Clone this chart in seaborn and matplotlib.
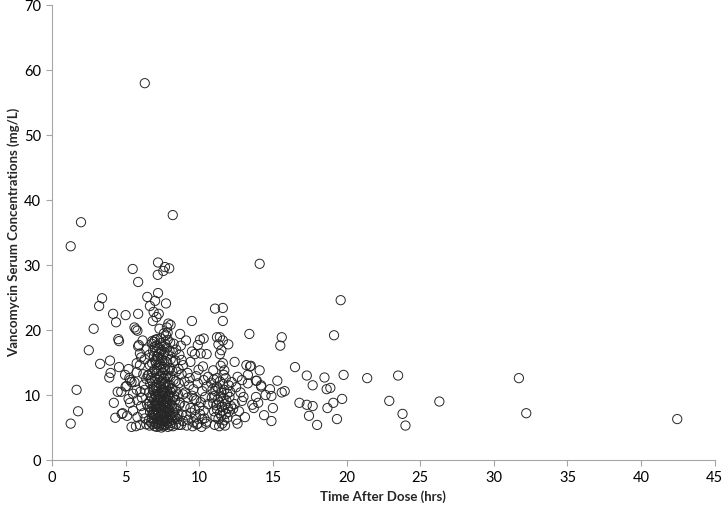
import numpy as np
import pandas as pd
import matplotlib
matplotlib.use('Agg')
import matplotlib.pyplot as plt
import seaborn as sns

# early samples (< 5 hrs)
time_a = [1.27, 1.97, 1.67, 1.77, 1.27, 2.5, 2.83, 3.2, 3.4, 3.27, 3.94, 3.98, 3.89, 4.15, 4.35, 4.5, 4.55, 4.55,
          4.2, 4.3, 4.46, 4.7, 4.73, 4.96, 5.0, 5.0, 4.8, 5.1]
conc_a = [32.9, 36.6, 10.8, 7.5, 5.6, 16.9, 20.2, 23.7, 24.9, 14.8, 15.3, 13.4, 12.7, 22.5, 21.2, 18.6, 18.3, 14.3,
          8.8, 6.5, 10.5, 10.5, 7.1, 13.1, 22.3, 11.3, 7.2, 6.8]

# 5 - 6.5 hrs
time_b = [5.48, 5.85, 5.85, 5.6, 5.7, 5.8, 5.85, 5.2, 5.3, 5.4, 5.25, 5.07, 5.2, 5.4, 5.7, 5.97, 5.8, 5.8, 6.0, 5.75,
          5.75, 5.75, 5.6, 5.97, 5.97, 5.9, 6.05, 6.3, 5.3, 5.5, 6.2, 6.1, 6.3, 6.4, 6.2, 6.3, 6.4, 6.15, 6.4, 6.3,
          6.47, 6.65, 5.5, 6.05, 6.25]
conc_b = [29.4, 27.4, 22.5, 20.4, 20.1, 19.9, 17.5, 14.0, 12.3, 12.0, 12.6, 11.4, 9.4, 5.1, 5.2, 5.4, 6.6, 9.2, 10.5, 10.8,
          14.9, 13.5, 12.0, 14.6, 16.4, 17.7, 15.8, 58.0, 8.8, 7.6, 7.2, 9.6, 10.8, 12.5, 13.2, 15.5, 17.0, 18.4, 5.5, 6.4,
          25.1, 23.7, 10.2, 8.3, 11.6]

# trough cluster around 7-8 hrs, upper points
time_c1 = [8.2, 7.2, 7.67, 7.96, 7.56, 7.18, 7.2, 7.0, 7.74, 6.9, 7.1, 7.25, 7.9, 7.8, 7.85, 8.05, 7.6, 7.4, 6.8, 7.0,
           7.3, 6.85]
conc_c1 = [37.7, 30.4, 29.7, 29.5, 29.1, 28.5, 25.7, 24.5, 24.1, 22.8, 22.0, 22.5, 21.0, 20.4, 19.6, 20.8, 19.5, 18.7,
           18.3, 18.5, 20.2, 21.4]

# trough cluster, dense part
time_c2 = [6.62, 6.58, 6.66, 6.55, 6.63, 6.6, 6.67, 6.57, 6.64, 6.61,
           6.82, 6.78, 6.85, 6.76, 6.81, 6.79, 6.84, 6.77, 6.83, 6.8, 6.86, 6.78,
           6.97, 6.93, 6.99, 6.91, 6.96, 6.94, 7.0, 6.92, 6.98, 6.95, 7.01, 6.93, 6.97, 6.94,
           7.12, 7.08, 7.14, 7.06, 7.11, 7.09, 7.15, 7.07, 7.13, 7.1, 7.16, 7.08, 7.12, 7.05, 7.14, 7.09, 7.11, 7.13,
           7.27, 7.23, 7.29, 7.21, 7.26, 7.24, 7.3, 7.22, 7.28, 7.25, 7.31, 7.23, 7.27, 7.2, 7.26, 7.29,
           7.42, 7.38, 7.44, 7.36, 7.41, 7.39, 7.45, 7.37, 7.43, 7.4, 7.46, 7.38, 7.42, 7.35, 7.41, 7.44, 7.39,
           7.57, 7.53, 7.59, 7.51, 7.56, 7.54, 7.6, 7.52, 7.58, 7.55, 7.61, 7.53, 7.57, 7.5, 7.56, 7.59,
           7.72, 7.68, 7.74, 7.66, 7.71, 7.69, 7.75, 7.67, 7.73, 7.7, 7.76, 7.68, 7.72, 7.65, 7.71, 7.74,
           7.87, 7.83, 7.89, 7.81, 7.86, 7.84, 7.9, 7.82, 7.88, 7.85, 7.91, 7.83, 7.87, 7.8, 7.86,
           8.02, 7.98, 8.04, 7.96, 8.01, 7.99, 8.05, 7.97, 8.03, 8.0, 8.06, 7.98, 8.02,
           8.22, 8.18, 8.24, 8.16, 8.21, 8.19, 8.25, 8.17, 8.23, 8.2, 8.26,
           8.42, 8.38, 8.44, 8.36, 8.41, 8.39, 8.45, 8.37, 8.43,
           8.62, 8.58, 8.64, 8.56, 8.61, 8.59, 8.65]
conc_c2 = [5.3, 6.1, 7.4, 8.2, 9.0, 10.4, 11.8, 13.1, 14.6, 16.2,
           5.5, 6.4, 7.0, 7.9, 8.7, 9.6, 10.9, 12.2, 13.5, 14.9, 16.8, 17.9,
           5.2, 5.9, 6.8, 7.6, 8.4, 9.3, 10.1, 11.2, 12.6, 13.9, 15.3, 16.0, 17.4, 18.2,
           5.1, 5.6, 6.3, 7.1, 7.8, 8.5, 9.1, 9.8, 10.6, 11.5, 12.4, 13.3, 14.2, 15.0, 15.9, 16.7, 17.6, 18.6,
           5.3, 5.9, 6.6, 7.3, 8.0, 8.8, 9.5, 10.2, 11.0, 11.9, 12.8, 13.7, 14.6, 15.6, 16.4, 17.2,
           5.0, 5.6, 6.2, 6.9, 7.5, 8.2, 8.9, 9.7, 10.5, 11.3, 12.1, 13.0, 13.9, 14.8, 15.7, 16.9, 18.0,
           5.2, 5.8, 6.5, 7.2, 7.9, 8.6, 9.3, 10.0, 10.8, 11.7, 12.5, 13.4, 14.3, 15.4, 16.3, 17.5,
           5.4, 6.0, 6.7, 7.4, 8.1, 8.9, 9.6, 10.4, 11.2, 12.0, 13.0, 14.0, 15.2, 16.6, 17.8, 19.2,
           5.1, 5.7, 6.4, 7.2, 8.0, 8.8, 9.7, 10.6, 11.6, 12.7, 13.8, 15.0, 16.1, 17.3, 18.5,
           5.3, 6.0, 6.9, 7.7, 8.6, 9.5, 10.5, 11.6, 12.9, 14.1, 15.5, 16.8, 18.1,
           5.2, 6.2, 7.3, 8.4, 9.6, 10.9, 12.3, 13.7, 15.1, 16.6, 17.9,
           5.5, 6.6, 7.9, 9.2, 10.6, 12.1, 13.6, 15.3, 17.0,
           5.4, 7.0, 8.5, 10.1, 11.8, 14.0, 16.2]

time_c3 = [6.72, 6.88, 7.03, 7.18, 7.33, 7.48, 7.63, 7.78, 7.93, 8.1, 8.3, 6.74, 6.9, 7.05, 7.2, 7.35, 7.5, 7.65,
           7.8, 7.95, 8.12, 8.32, 6.7, 6.87, 7.02, 7.17, 7.32, 7.47, 7.62, 7.77, 7.92, 8.08, 8.28, 8.5, 6.5, 6.45]
conc_c3 = [5.8, 6.9, 7.7, 8.3, 9.2, 6.0, 7.1, 8.7, 9.9, 6.6, 8.0, 9.8, 10.7, 11.1, 5.6, 6.8, 10.4, 11.7,
           6.2, 7.4, 11.0, 6.9, 12.6, 7.3, 8.8, 9.4, 10.1, 5.4, 8.3, 9.1, 10.1, 5.7, 9.9, 6.3, 13.0, 8.6]

# 8.7 - 10.6 hrs
time_d = [9.5, 8.7, 9.1, 10.05, 10.3, 9.9, 9.5, 9.7, 10.1, 10.5, 8.8, 8.9, 9.4, 8.75, 9.8, 10.6, 10.3, 9.2,
          8.8, 9.0, 9.3, 9.6, 9.9, 10.2, 10.5, 8.9, 9.2, 9.5, 9.8, 10.1, 10.4, 8.7, 9.0, 9.4, 9.7, 10.0, 10.3,
          10.6, 8.8, 9.1, 9.45, 9.75, 10.05, 10.35, 8.9, 9.25, 9.6, 9.9, 10.2, 10.5, 8.75, 9.15, 9.55, 9.85,
          10.15, 10.45, 9.05, 9.35, 9.65, 9.95, 10.25]
conc_d = [21.4, 19.4, 18.4, 18.5, 18.7, 17.7, 16.7, 16.3, 16.4, 16.3, 15.4, 14.6, 15.1, 17.6, 12.9, 12.8, 12.3, 13.4,
          13.2, 12.1, 11.5, 10.9, 11.8, 10.6, 11.3, 10.1, 9.6, 9.9, 9.2, 8.9, 9.7, 8.8, 8.3, 8.0, 7.7, 8.2, 7.6,
          8.6, 7.0, 6.9, 7.3, 6.6, 7.1, 6.4, 6.0, 6.2, 5.8, 5.6, 6.3, 5.9, 5.4, 5.3, 5.2, 5.5,
          5.1, 5.6, 10.4, 12.6, 9.4, 13.9, 14.4]

# second cluster around 11-12 hrs
time_e = [11.07, 11.6, 11.6, 11.2, 11.4, 11.6, 11.3, 11.97, 11.5, 11.4, 11.6, 11.7, 11.2, 10.95,
          10.8, 11.0, 11.2, 11.4, 11.6, 11.8, 12.0, 12.2,
          10.9, 11.1, 11.3, 11.5, 11.7, 11.9, 12.1,
          10.85, 11.05, 11.25, 11.45, 11.65, 11.85, 12.05,
          10.95, 11.15, 11.35, 11.55, 11.75, 11.95, 12.15,
          11.0, 11.2, 11.4, 11.6, 11.8, 12.0,
          11.1, 11.3, 11.5, 11.7, 11.9,
          11.05, 11.35, 11.55, 11.75, 11.45, 11.65]
conc_e = [23.3, 23.4, 21.4, 18.9, 18.9, 18.4, 17.8, 17.8, 16.9, 16.3, 14.9, 13.8, 12.6, 13.8,
          11.9, 12.4, 11.3, 12.1, 11.7, 12.6, 11.5, 12.0,
          10.9, 10.6, 11.0, 10.4, 10.8, 10.2, 10.5,
          9.6, 9.9, 9.3, 9.8, 9.5, 9.1, 9.7,
          8.7, 8.4, 8.9, 8.2, 8.6, 8.0, 8.3,
          7.5, 7.8, 7.2, 7.6, 7.1, 7.4,
          6.6, 6.3, 6.8, 6.1, 6.5,
          5.4, 5.2, 5.6, 5.3, 14.5, 13.1]

# 12.3 - 16 hrs
time_f = [12.4, 13.2, 13.5, 12.6, 12.9, 13.3, 13.9, 14.2, 14.1, 14.1, 13.4, 13.45, 15.6, 15.5, 13.85, 14.2, 15.3,
          14.8, 14.5, 14.9, 15.6, 15.8, 13.85, 14.0, 13.6, 13.7, 15.0, 14.4, 14.9, 12.5, 12.8, 13.0, 12.4, 12.7,
          13.1, 12.6, 12.9, 12.5, 13.3, 12.3]
conc_f = [15.1, 14.6, 14.5, 12.8, 12.3, 13.1, 12.2, 11.3, 30.2, 13.8, 19.4, 14.4, 18.9, 17.6, 12.2, 11.5, 12.2,
          10.9, 10.0, 9.85, 10.4, 10.6, 9.7, 8.8, 8.5, 8.0, 8.0, 6.9, 6.0, 11.2, 10.4, 9.7, 8.6, 7.5,
          6.6, 5.6, 9.1, 6.2, 11.8, 7.9]

# late samples (> 16 hrs)
time_g = [16.5, 17.3, 18.5, 19.8, 17.7, 18.65, 18.9, 16.8, 17.3, 17.7, 19.1, 18.7, 19.7, 17.45, 18.0, 19.35, 19.6,
          19.15, 21.4, 23.5, 31.7, 22.9, 26.3, 23.8, 24.0, 32.2, 42.45]
conc_g = [14.3, 13.0, 12.7, 13.1, 11.5, 10.9, 11.1, 8.8, 8.5, 8.3, 8.8, 8.0, 9.4, 6.8, 5.4, 6.3, 24.6,
          19.2, 12.6, 13.0, 12.6, 9.1, 9.0, 7.1, 5.3, 7.2, 6.3]

df = pd.DataFrame({
    'time': time_a + time_b + time_c1 + time_c2 + time_c3 + time_d + time_e + time_f + time_g,
    'conc': conc_a + conc_b + conc_c1 + conc_c2 + conc_c3 + conc_d + conc_e + conc_f + conc_g,
})

sns.set_style('white')
plt.rcParams['font.family'] = ['Lato', 'DejaVu Sans']

fig = plt.figure(figsize=(7.22, 5.07), dpi=100)
ax = fig.add_axes([0.072, 0.0927, 0.918, 0.897])

sns.scatterplot(data=df, x='time', y='conc', ax=ax, marker='o', s=44,
                facecolor='none', edgecolor='#262626', linewidth=0.7)

ax.set_xlim(0, 45)
ax.set_ylim(0, 70)
ax.set_xticks(np.arange(0, 46, 5))
ax.set_yticks(np.arange(0, 71, 10))
ax.tick_params(axis='both', which='major', direction='out', length=4, width=0.8,
               color='#a6a6a6', labelsize=10.5, labelcolor='black', bottom=True, left=True, pad=4)
for side in ['top', 'right']:
    ax.spines[side].set_visible(False)
for side in ['left', 'bottom']:
    ax.spines[side].set_color('#a6a6a6')
    ax.spines[side].set_linewidth(0.8)

ax.set_xlabel('Time After Dose (hrs)', fontsize=9.5, fontweight='bold', labelpad=4)
ax.set_ylabel('Vancomycin Serum Concentrations (mg/L)', fontsize=9.5, fontweight='bold', labelpad=3)

fig.savefig('out.png', dpi=100)
plt.close(fig)
